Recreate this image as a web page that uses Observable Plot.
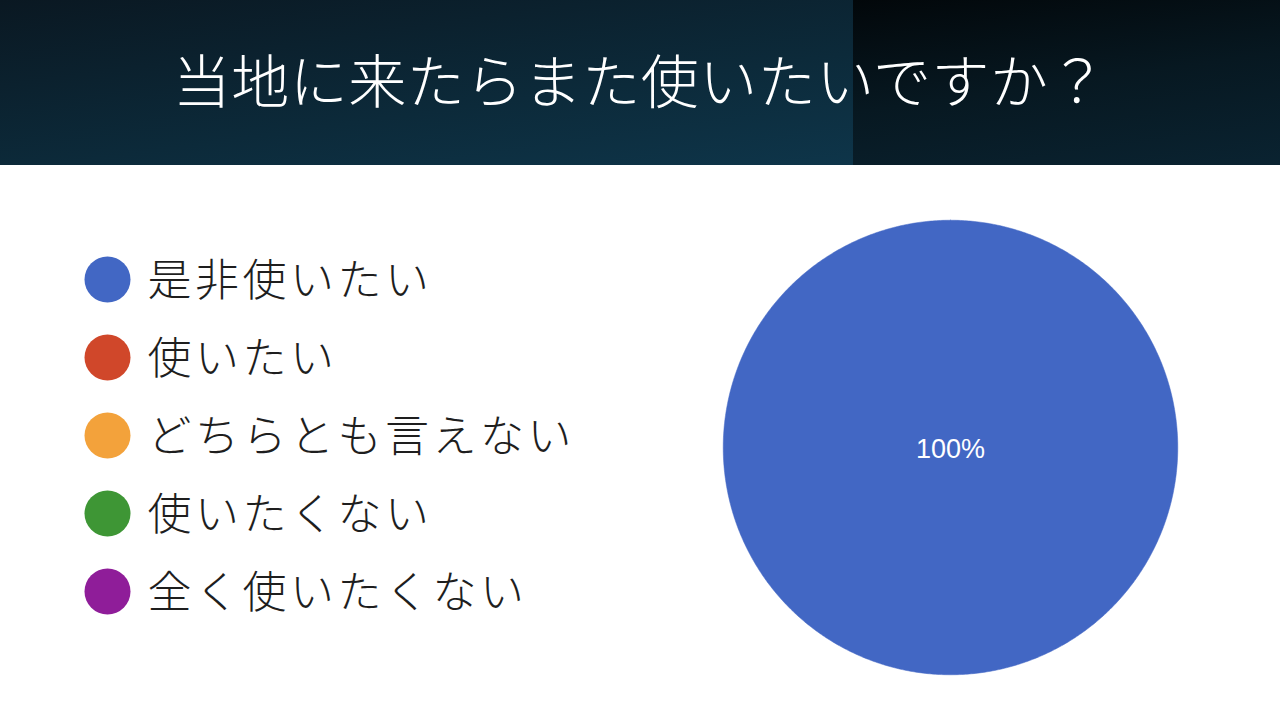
<!DOCTYPE html>
<html>
<head>
<meta charset="utf-8">
<script src="https://cdn.jsdelivr.net/npm/d3@7"></script>
<script src="https://cdn.jsdelivr.net/npm/@observablehq/plot@0.6"></script>
<style>
  html, body { margin: 0; padding: 0; background: #ffffff; }
  #page { position: relative; width: 1280px; height: 720px; overflow: hidden; background: #ffffff; }
  #header { position: absolute; left: 0; top: 0; width: 1280px; height: 165px;
    background: linear-gradient(172deg, #0a1822 0%, #0c2a3a 50%, #0f3b52 100%); }
  #header-right { position: absolute; left: 853px; top: 0; width: 427px; height: 165px;
    background: linear-gradient(172deg, #02070a 0%, #071821 50%, #0a2331 100%); }
  #title { position: absolute; left: 0; top: -4px; width: 1280px; height: 165px; line-height: 165px;
    text-align: center; color: #ffffff; font-family: "Noto Sans CJK JP", sans-serif; font-weight: 300;
    font-size: 58px; letter-spacing: 0.5px; margin: 0; }
  #legend { position: absolute; left: 0; top: 165px; }
  #pie { position: absolute; left: 700px; top: 197px; }
  #err { position: absolute; left: 700px; top: 600px; color: red; font-size: 12px; }
</style>
</head>
<body>
<div id="page">
  <div id="header"></div>
  <div id="header-right"></div>
  <h1 id="title">当地に来たらまた使いたいですか？</h1>
  <div id="legend"></div>
  <div id="pie"></div>
  <div id="err"></div>
</div>
<script>
// Data
const categories = ["是非使いたい", "使いたい", "どちらとも言えない", "使いたくない", "全く使いたくない"];
const values = [100, 0, 0, 0, 0];
const colors = ["#4267c4", "#d0472a", "#f3a23b", "#3e9635", "#8f1d99"];

const colorScale = {domain: categories, range: colors};

try {
// Legend
const legend = Plot.plot({
  width: 640,
  height: 555,
  margin: 0,
  y: {type: "point", domain: categories, range: [112, 427], padding: 0, axis: null},
  color: colorScale,
  marks: [
    Plot.dot(categories, {y: d => d, fill: d => d, r: 23, frameAnchor: "left", dx: 107}),
    Plot.text(categories, {y: d => d, text: d => d, frameAnchor: "left", textAnchor: "start", dx: 147, dy: 2,
      fontSize: 44, fontWeight: 300, fill: "#1e1e1e", fontFamily: "Noto Sans CJK JP"})
  ],
  style: {background: "transparent", overflow: "visible", letterSpacing: "3.5px"}
});
document.getElementById("legend").appendChild(legend);
} catch (e) { document.getElementById("err").textContent += "legend: " + e.message; }

try {
// Pie geometry from the values
const table = categories.map((c, i) => ({category: c, value: values[i]}));
const arcs = d3.pie().sort(null).value(d => d.value)(table).filter(a => a.value > 0);
const slicePoints = [];
const labels = [];
const total = d3.sum(values);
for (const a of arcs) {
  const span = a.endAngle - a.startAngle;
  const n = Math.max(2, Math.ceil(span / (Math.PI / 360)));
  const full = span >= 2 * Math.PI - 1e-6;
  if (!full) slicePoints.push({category: a.data.category, x: 0, y: 0});
  for (let k = 0; k <= n; k++) {
    const t = a.startAngle + span * k / n;
    slicePoints.push({category: a.data.category, x: Math.sin(t), y: Math.cos(t)});
  }
  const mid = (a.startAngle + a.endAngle) / 2;
  const rl = full ? 0 : 0.6;
  labels.push({x: rl * Math.sin(mid), y: rl * Math.cos(mid), text: d3.format(".0%")(a.value / total)});
}

const pie = Plot.plot({
  width: 500,
  height: 500,
  margin: 0,
  x: {type: "linear", domain: [-1.1, 1.1], axis: null},
  y: {type: "linear", domain: [-1.1, 1.1], axis: null},
  color: colorScale,
  marks: [
    Plot.line(slicePoints, {x: "x", y: "y", z: "category", fill: "category", stroke: "category",
      strokeWidth: 0.5, curve: "linear-closed"}),
    Plot.text(labels, {x: "x", y: "y", text: "text", fill: "#ffffff", fontSize: 27, dy: 2,
      fontFamily: "Liberation Sans, Arial, sans-serif"})
  ],
  style: {background: "transparent", overflow: "visible"}
});
document.getElementById("pie").appendChild(pie);
} catch (e) { document.getElementById("err").textContent += " pie: " + e.message; }
</script>
</body>
</html>
